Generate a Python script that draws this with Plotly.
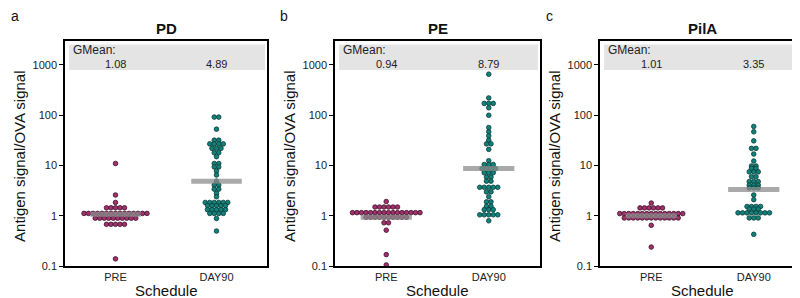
import numpy as np
import plotly.graph_objects as go

antigens = ["PD", "PE", "PilA"]
panel_letters = ["a", "b", "c"]
schedules = ["PRE", "DAY90"]
gmean_values = [[1.08, 4.89], [0.94, 8.79], [1.01, 3.35]]
gmean_labels = [["1.08", "4.89"], ["0.94", "8.79"], ["1.01", "3.35"]]
y_tick_vals = [0.1, 1, 10, 100, 1000]
y_tick_text = ["0.1", "1", "10", "100", "1000"]

pd_pre = [11, 2.6, 1.85,
          1.45, 1.45, 1.45, 1.45, 1.45,
          1.12, 1.12, 1.12, 1.12, 1.12, 1.12, 1.12, 1.12, 1.12, 1.12, 1.12, 1.12, 1.12, 1.12, 1.12,
          0.9, 0.9, 0.9, 0.9, 0.9, 0.9, 0.9, 0.9, 0.9, 0.9,
          0.68, 0.68, 0.68, 0.68, 0.68,
          0.14]
pd_day90 = [92, 92, 53, 32, 32, 27, 27, 27, 27, 22, 22, 22, 18, 18, 15,
            11, 11, 9.4, 9.4, 7.8, 6.5, 4.9, 4.1, 4.1, 3.4, 3.4, 2.8, 2.4,
            1.85, 1.85, 1.85, 1.85, 1.85, 1.85,
            1.6, 1.6, 1.6, 1.6, 1.6,
            1.33, 1.33, 1.33, 1.33, 1.33,
            1.12, 1.12, 1.12, 1.12,
            0.89, 0.5]
pe_pre = [1.93,
          1.5, 1.5, 1.5, 1.5, 1.5, 1.5,
          1.16, 1.16, 1.16, 1.16, 1.16, 1.16, 1.16, 1.16, 1.16, 1.16, 1.16, 1.16, 1.16, 1.16, 1.16, 1.16,
          0.94, 0.94, 0.94, 0.94, 0.94, 0.94, 0.94, 0.94, 0.94, 0.94,
          0.73, 0.73, 0.52, 0.17, 0.106]
pe_day90 = [655, 221, 172, 172, 172, 141, 100, 57, 47, 39, 32, 27, 27, 21, 12.5,
            10.5, 10.5, 10.5, 8.7, 8.7, 8.7, 8.7, 7.2, 7.2, 7.2, 5.9, 5.9, 4.9, 4.9,
            3.7, 3.7, 3.7, 3.7, 3.7, 3.0, 3.0, 2.4, 1.9, 1.9, 1.55, 1.55,
            1.33, 1.33, 1.33, 1.05, 1.05, 1.05, 1.05, 1.05, 0.8]
pila_pre = [1.8,
            1.44, 1.44, 1.44, 1.44, 1.44, 1.44,
            1.11, 1.11, 1.11, 1.11, 1.11, 1.11, 1.11, 1.11, 1.11, 1.11, 1.11, 1.11, 1.11, 1.11, 1.11,
            0.91, 0.91, 0.91, 0.91, 0.91, 0.91, 0.91, 0.91, 0.91, 0.91, 0.91, 0.91, 0.91,
            0.65, 0.24]
pila_day90 = [60, 47, 31, 22, 22, 17, 12.3, 9.8, 9.8, 8.8, 8.8, 7.5, 7.5, 7.5, 6.0, 6.0,
              4.8, 4.8, 4.8, 4.1, 4.1, 4.1, 3.6, 3.6, 3.6, 2.6, 2.1,
              1.54, 1.54, 1.54, 1.54, 1.37, 1.37, 1.37,
              1.15, 1.15, 1.15, 1.15, 1.15, 1.15, 1.15, 1.15,
              0.91, 0.91, 0.91, 0.43]

panel_data = [[pd_pre, pd_day90], [pe_pre, pe_day90], [pila_pre, pila_day90]]

fill_colors = ["#a2306c", "#13807a"]
edge_colors = ["#3b1228", "#083b37"]
FONT = "Liberation Sans, Arial, sans-serif"

# layout geometry (pixels of the 800x298 canvas)
W, H = 800, 298
box_x = [(57, 259), (327, 532), (592, 797)]
box_top, box_bottom = 34, 263.5
ytitle_x = [12, 282, 547]
letter_x = [7, 276, 541]
dot_step_px = 4.5


def swarm_x(values, center, px_per_unit):
    vals = np.asarray(values, dtype=float)
    xs = np.zeros_like(vals)
    step = dot_step_px / px_per_unit
    for v in np.unique(vals):
        idx = np.where(vals == v)[0]
        n = len(idx)
        xs[idx] = center + (np.arange(n) - (n - 1) / 2) * step
    return xs


fig = go.Figure()
annotations = []
shapes = []
layout_axes = {}

for p in range(3):
    sfx = "" if p == 0 else str(p + 1)
    xa, ya = "x" + sfx, "y" + sfx
    x0, x1 = box_x[p]
    px_per_unit = (x1 - x0) / 2.0
    for g in range(2):
        vals = panel_data[p][g]
        xs = swarm_x(vals, g + 1, px_per_unit)
        fig.add_trace(go.Scatter(
            x=xs, y=vals, mode="markers", xaxis=xa, yaxis=ya, showlegend=False,
            marker=dict(size=4.6, color=fill_colors[g],
                        line=dict(color=edge_colors[g], width=0.8)),
            hoverinfo="y"))
    for g in range(2):
        gm = gmean_values[p][g]
        fig.add_trace(go.Scatter(
            x=[g + 1 - 0.25, g + 1 + 0.25], y=[gm, gm], mode="lines",
            xaxis=xa, yaxis=ya, showlegend=False,
            line=dict(color="rgba(140,140,140,0.75)", width=5), hoverinfo="skip"))

    layout_axes["xaxis" + sfx] = dict(
        domain=[x0 / W, x1 / W], range=[0.5, 2.5], anchor=ya,
        tickmode="array", tickvals=[1, 2], ticktext=schedules, ticks="",
        showline=True, mirror=True, linecolor="black", linewidth=1.5,
        showgrid=False, zeroline=False,
        tickfont=dict(size=11, color="#222", family=FONT))
    layout_axes["yaxis" + sfx] = dict(
        domain=[(H - box_bottom) / H, (H - box_top) / H], type="log",
        range=[-1, 3.47], anchor=xa,
        tickmode="array", tickvals=y_tick_vals, ticktext=y_tick_text,
        ticks="outside", ticklen=4, tickwidth=1.2, tickcolor="black",
        showline=True, mirror=True, linecolor="black", linewidth=1.5,
        showgrid=False, zeroline=False,
        tickfont=dict(size=11, color="#222", family=FONT))

    # GMean strip
    shapes.append(dict(type="rect", xref=xa + " domain", yref=ya + " domain",
                       x0=0.02, x1=0.99, y0=0.872, y1=0.986,
                       fillcolor="#e4e4e4", line=dict(width=0), layer="below"))
    annotations.append(dict(text="GMean:", xref=xa + " domain", yref="paper",
                            x=0.028, y=1 - 43 / H, xanchor="left", yanchor="middle",
                            showarrow=False, font=dict(size=12, color="#222", family=FONT)))
    for g in range(2):
        annotations.append(dict(text=gmean_labels[p][g], xref=xa, yref="paper",
                                x=g + 1, y=1 - 57.5 / H, xanchor="center", yanchor="middle",
                                showarrow=False, font=dict(size=11, color="#222", family=FONT)))
    cx = (x0 + x1) / 2 / W
    annotations.append(dict(text="<b>" + antigens[p] + "</b>", xref="paper", yref="paper",
                            x=cx, y=1 - 21 / H, xanchor="center", yanchor="middle",
                            showarrow=False, font=dict(size=15, color="#111", family=FONT)))
    annotations.append(dict(text=panel_letters[p], xref="paper", yref="paper",
                            x=letter_x[p] / W, y=1 - 8 / H, xanchor="center", yanchor="middle",
                            showarrow=False, font=dict(size=14, color="#111", family=FONT)))
    annotations.append(dict(text="Antigen signal/OVA signal", xref="paper", yref="paper",
                            x=ytitle_x[p] / W, y=1 - 151 / H, xanchor="center", yanchor="middle",
                            textangle=-90, showarrow=False,
                            font=dict(size=15, color="#111", family=FONT)))
    annotations.append(dict(text="Schedule", xref="paper", yref="paper",
                            x=cx, y=0, xanchor="center", yanchor="bottom",
                            showarrow=False, borderpad=0,
                            font=dict(size=15, color="#111", family=FONT)))

fig.update_layout(
    width=W, height=H, margin=dict(l=0, r=0, t=0, b=0),
    paper_bgcolor="white", plot_bgcolor="white",
    font=dict(family=FONT), annotations=annotations, shapes=shapes,
    **layout_axes)

fig.write_html("out.html")
